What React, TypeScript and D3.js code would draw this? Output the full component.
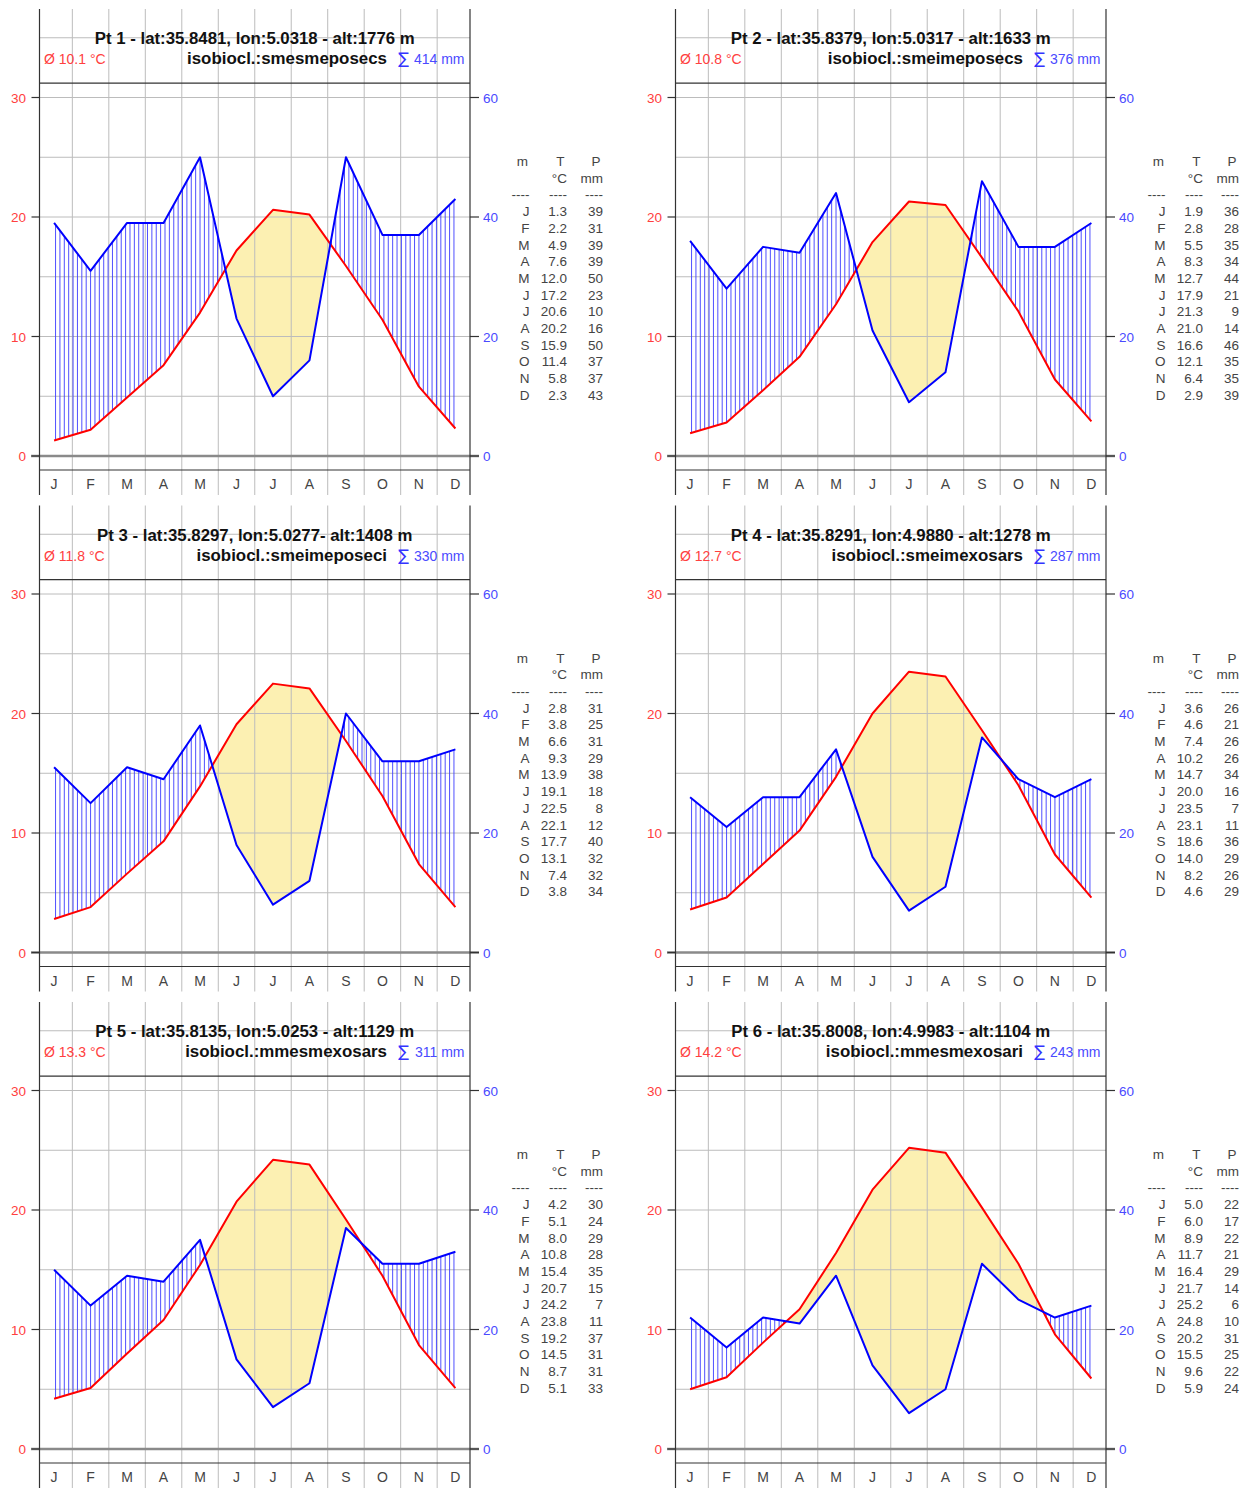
import React from 'react';
import * as d3 from 'd3';

// Walter-Lieth style climate diagrams, 6 points (P scale = 2 x T scale)

const MONTHS = ['J', 'F', 'M', 'A', 'M', 'J', 'J', 'A', 'S', 'O', 'N', 'D'];

const TITLES = [
  'Pt 1 - lat:35.8481, lon:5.0318 - alt:1776 m',
  'Pt 2 - lat:35.8379, lon:5.0317 - alt:1633 m',
  'Pt 3 - lat:35.8297, lon:5.0277- alt:1408 m',
  'Pt 4 - lat:35.8291, lon:4.9880 - alt:1278 m',
  'Pt 5 - lat:35.8135, lon:5.0253 - alt:1129 m',
  'Pt 6 - lat:35.8008, lon:4.9983 - alt:1104 m',
];

const ISOBIOCLIMATES = [
  'smesmeposecs',
  'smeimeposecs',
  'smeimeposeci',
  'smeimexosars',
  'mmesmexosars',
  'mmesmexosari',
];

const tempPt1 = [1.3, 2.2, 4.9, 7.6, 12.0, 17.2, 20.6, 20.2, 15.9, 11.4, 5.8, 2.3];
const precPt1 = [39, 31, 39, 39, 50, 23, 10, 16, 50, 37, 37, 43];
const tempPt2 = [1.9, 2.8, 5.5, 8.3, 12.7, 17.9, 21.3, 21.0, 16.6, 12.1, 6.4, 2.9];
const precPt2 = [36, 28, 35, 34, 44, 21, 9, 14, 46, 35, 35, 39];
const tempPt3 = [2.8, 3.8, 6.6, 9.3, 13.9, 19.1, 22.5, 22.1, 17.7, 13.1, 7.4, 3.8];
const precPt3 = [31, 25, 31, 29, 38, 18, 8, 12, 40, 32, 32, 34];
const tempPt4 = [3.6, 4.6, 7.4, 10.2, 14.7, 20.0, 23.5, 23.1, 18.6, 14.0, 8.2, 4.6];
const precPt4 = [26, 21, 26, 26, 34, 16, 7, 11, 36, 29, 26, 29];
const tempPt5 = [4.2, 5.1, 8.0, 10.8, 15.4, 20.7, 24.2, 23.8, 19.2, 14.5, 8.7, 5.1];
const precPt5 = [30, 24, 29, 28, 35, 15, 7, 11, 37, 31, 31, 33];
const tempPt6 = [5.0, 6.0, 8.9, 11.7, 16.4, 21.7, 25.2, 24.8, 20.2, 15.5, 9.6, 5.9];
const precPt6 = [22, 17, 22, 21, 29, 14, 6, 10, 31, 25, 22, 24];

const TEMP_TICKS = [0, 10, 20, 30];
const PREC_TICKS = [0, 20, 40, 60];

const stations = [
  { temp: tempPt1, prec: precPt1 },
  { temp: tempPt2, prec: precPt2 },
  { temp: tempPt3, prec: precPt3 },
  { temp: tempPt4, prec: precPt4 },
  { temp: tempPt5, prec: precPt5 },
  { temp: tempPt6, prec: precPt6 },
].map((s, i) => ({ ...s, title: TITLES[i], iso: ISOBIOCLIMATES[i] }));

const FONT = 'Liberation Sans, Arial, sans-serif';
const PANEL_DX = 636;
const PANEL_DY = 496.5;

type Pt = { m: number; t: number; h: number };

const Panel = ({ st, ox, oy }: { st: any; ox: number; oy: number }) => {
  const x = d3.scaleLinear().domain([0.6, 12.4]).range([39.5, 470]);
  const yT = d3.scaleLinear().domain([0, 30]).range([456, 97.5]);
  const yP = d3.scaleLinear().domain([0, 60]).range([456, 97.5]);

  const pts: Pt[] = st.temp.map((t: number, i: number) => ({ m: i + 1, t, h: st.prec[i] / 2 }));

  // add crossing points so the dry area closes exactly
  const aug: Pt[] = [];
  pts.forEach((p, i) => {
    aug.push(p);
    const q = pts[i + 1];
    if (!q) return;
    const d0 = p.t - p.h;
    const d1 = q.t - q.h;
    if (d0 * d1 < 0) {
      const f = d0 / (d0 - d1);
      const t = p.t + f * (q.t - p.t);
      aug.push({ m: p.m + f, t, h: t });
    }
  });

  const dryArea = d3.area<Pt>()
    .defined(d => d.t - d.h >= -1e-9)
    .x(d => x(d.m))
    .y0(d => yT(d.h))
    .y1(d => yT(d.t));

  const tLine = d3.line<Pt>().x(d => x(d.m)).y(d => yT(d.t));
  const pLine = d3.line<Pt>().x(d => x(d.m)).y(d => yP(d.h * 2));

  // vertical hatching where the precipitation curve lies above temperature
  const hatch = d3.range(1.04, 12, 0.12).map(xv => {
    const i = Math.min(10, Math.floor(xv - 1));
    const f = xv - 1 - i;
    const t = pts[i].t + f * (pts[i + 1].t - pts[i].t);
    const h = pts[i].h + f * (pts[i + 1].h - pts[i].h);
    return { xv, t, h };
  }).filter(d => d.h > d.t);

  const x0 = x.range()[0];
  const x1 = x.range()[1];
  const yTop = 9;
  const yBot = 495;
  const vGrid = d3.range(1.5, 12, 1);
  const hGrid = d3.range(5, 36, 5);
  const rowY = (i: number) => 166 + i * 16.7;
  const mean = d3.mean(st.temp as number[]) as number;
  const total = d3.sum(st.prec as number[]);

  return (
    <g transform={`translate(${ox},${oy})`} fontFamily={FONT}>
      <path d={dryArea(aug) || ''} fill="#fcf0b2" stroke="none" />

      {vGrid.map(v => (
        <line key={'v' + v} x1={x(v)} x2={x(v)} y1={yTop} y2={yBot} stroke="#bcbcbc" strokeWidth={1} />
      ))}
      {hGrid.map(v => (
        <line key={'h' + v} x1={x0} x2={x1} y1={yT(v)} y2={yT(v)} stroke="#bcbcbc" strokeWidth={1} />
      ))}

      {hatch.map(d => (
        <line key={'ht' + d.xv} x1={x(d.xv)} x2={x(d.xv)} y1={yT(d.h)} y2={yT(d.t)} stroke="#3c3cff" strokeWidth={0.9} />
      ))}

      <line x1={31} x2={479} y1={yT(0)} y2={yT(0)} stroke="#8a8a8a" strokeWidth={2.5} />
      <line x1={x0} x2={x1} y1={yT(31.2)} y2={yT(31.2)} stroke="#333" strokeWidth={1.2} />
      <line x1={x0} x2={x1} y1={yT(-1.17)} y2={yT(-1.17)} stroke="#333" strokeWidth={1.2} />
      <line x1={x0} x2={x0} y1={yTop} y2={yBot} stroke="#333" strokeWidth={1.2} />
      <line x1={x1} x2={x1} y1={yTop} y2={yBot} stroke="#333" strokeWidth={1.2} />

      <path d={tLine(pts) || ''} fill="none" stroke="#ff0000" strokeWidth={2} strokeLinejoin="round" />
      <path d={pLine(pts) || ''} fill="none" stroke="#0000ff" strokeWidth={2} strokeLinejoin="round" />

      {TEMP_TICKS.map(v => (
        <g key={'tt' + v}>
          <line x1={x0 - 8} x2={x0} y1={yT(v)} y2={yT(v)} stroke="#333" strokeWidth={1.2} />
          <text x={26} y={yT(v) + 5} textAnchor="end" fontSize={13.5} fill="#ff4040">{v}</text>
        </g>
      ))}
      {PREC_TICKS.map(v => (
        <g key={'pt' + v}>
          <line x1={x1} x2={x1 + 9} y1={yP(v)} y2={yP(v)} stroke="#333" strokeWidth={1.2} />
          <text x={483} y={yP(v) + 5} textAnchor="start" fontSize={13.5} fill="#4a4aff">{v}</text>
        </g>
      ))}

      {MONTHS.map((m, i) => (
        <text key={'m' + i} x={x(i + 1)} y={489} textAnchor="middle" fontSize={14} fill="#444">{m}</text>
      ))}

      <text x={(x0 + x1) / 2} y={44} textAnchor="middle" fontSize={16.8} fontWeight="bold" fill="#111">{st.title}</text>
      <text x={44} y={64} fontSize={14} fill="#ff4040">{`Ø ${mean.toFixed(1)} °C`}</text>
      <text x={387} y={64} textAnchor="end" fontSize={16.9} fontWeight="bold" fill="#111">{`isobiocl.:${st.iso}`}</text>
      <text x={409} y={64} textAnchor="end" fontSize={16} fontFamily="DejaVu Sans" fill="#3333ff">∑</text>
      <text x={464.5} y={64} textAnchor="end" fontSize={14} fill="#4a4aff">{`${total} mm`}</text>

      <g fontSize={13.5} fill="#444" textAnchor="end">
        <text x={528} y={rowY(0)}>m</text>
        <text x={564.5} y={rowY(0)}>T</text>
        <text x={600.5} y={rowY(0)}>P</text>
        <text x={567} y={rowY(1)}>°C</text>
        <text x={603} y={rowY(1)}>mm</text>
        <text x={529.5} y={rowY(2)}>----</text>
        <text x={567} y={rowY(2)}>----</text>
        <text x={603} y={rowY(2)}>----</text>
        {MONTHS.map((m, i) => (
          <g key={'r' + i}>
            <text x={529.5} y={rowY(i + 3)}>{m}</text>
            <text x={567} y={rowY(i + 3)}>{st.temp[i].toFixed(1)}</text>
            <text x={603} y={rowY(i + 3)}>{st.prec[i]}</text>
          </g>
        ))}
      </g>
    </g>
  );
};

const App = () => (
  <svg
    width={1253}
    height={1488}
    viewBox="0 0 1253 1488"
    style={{ position: 'absolute', left: 0, top: 0, background: '#fff' }}
  >
    <rect width={1253} height={1488} fill="#fff" />
    {stations.map((st, i) => (
      <Panel key={i} st={st} ox={(i % 2) * PANEL_DX} oy={Math.floor(i / 2) * PANEL_DY} />
    ))}
  </svg>
);

export default App;
